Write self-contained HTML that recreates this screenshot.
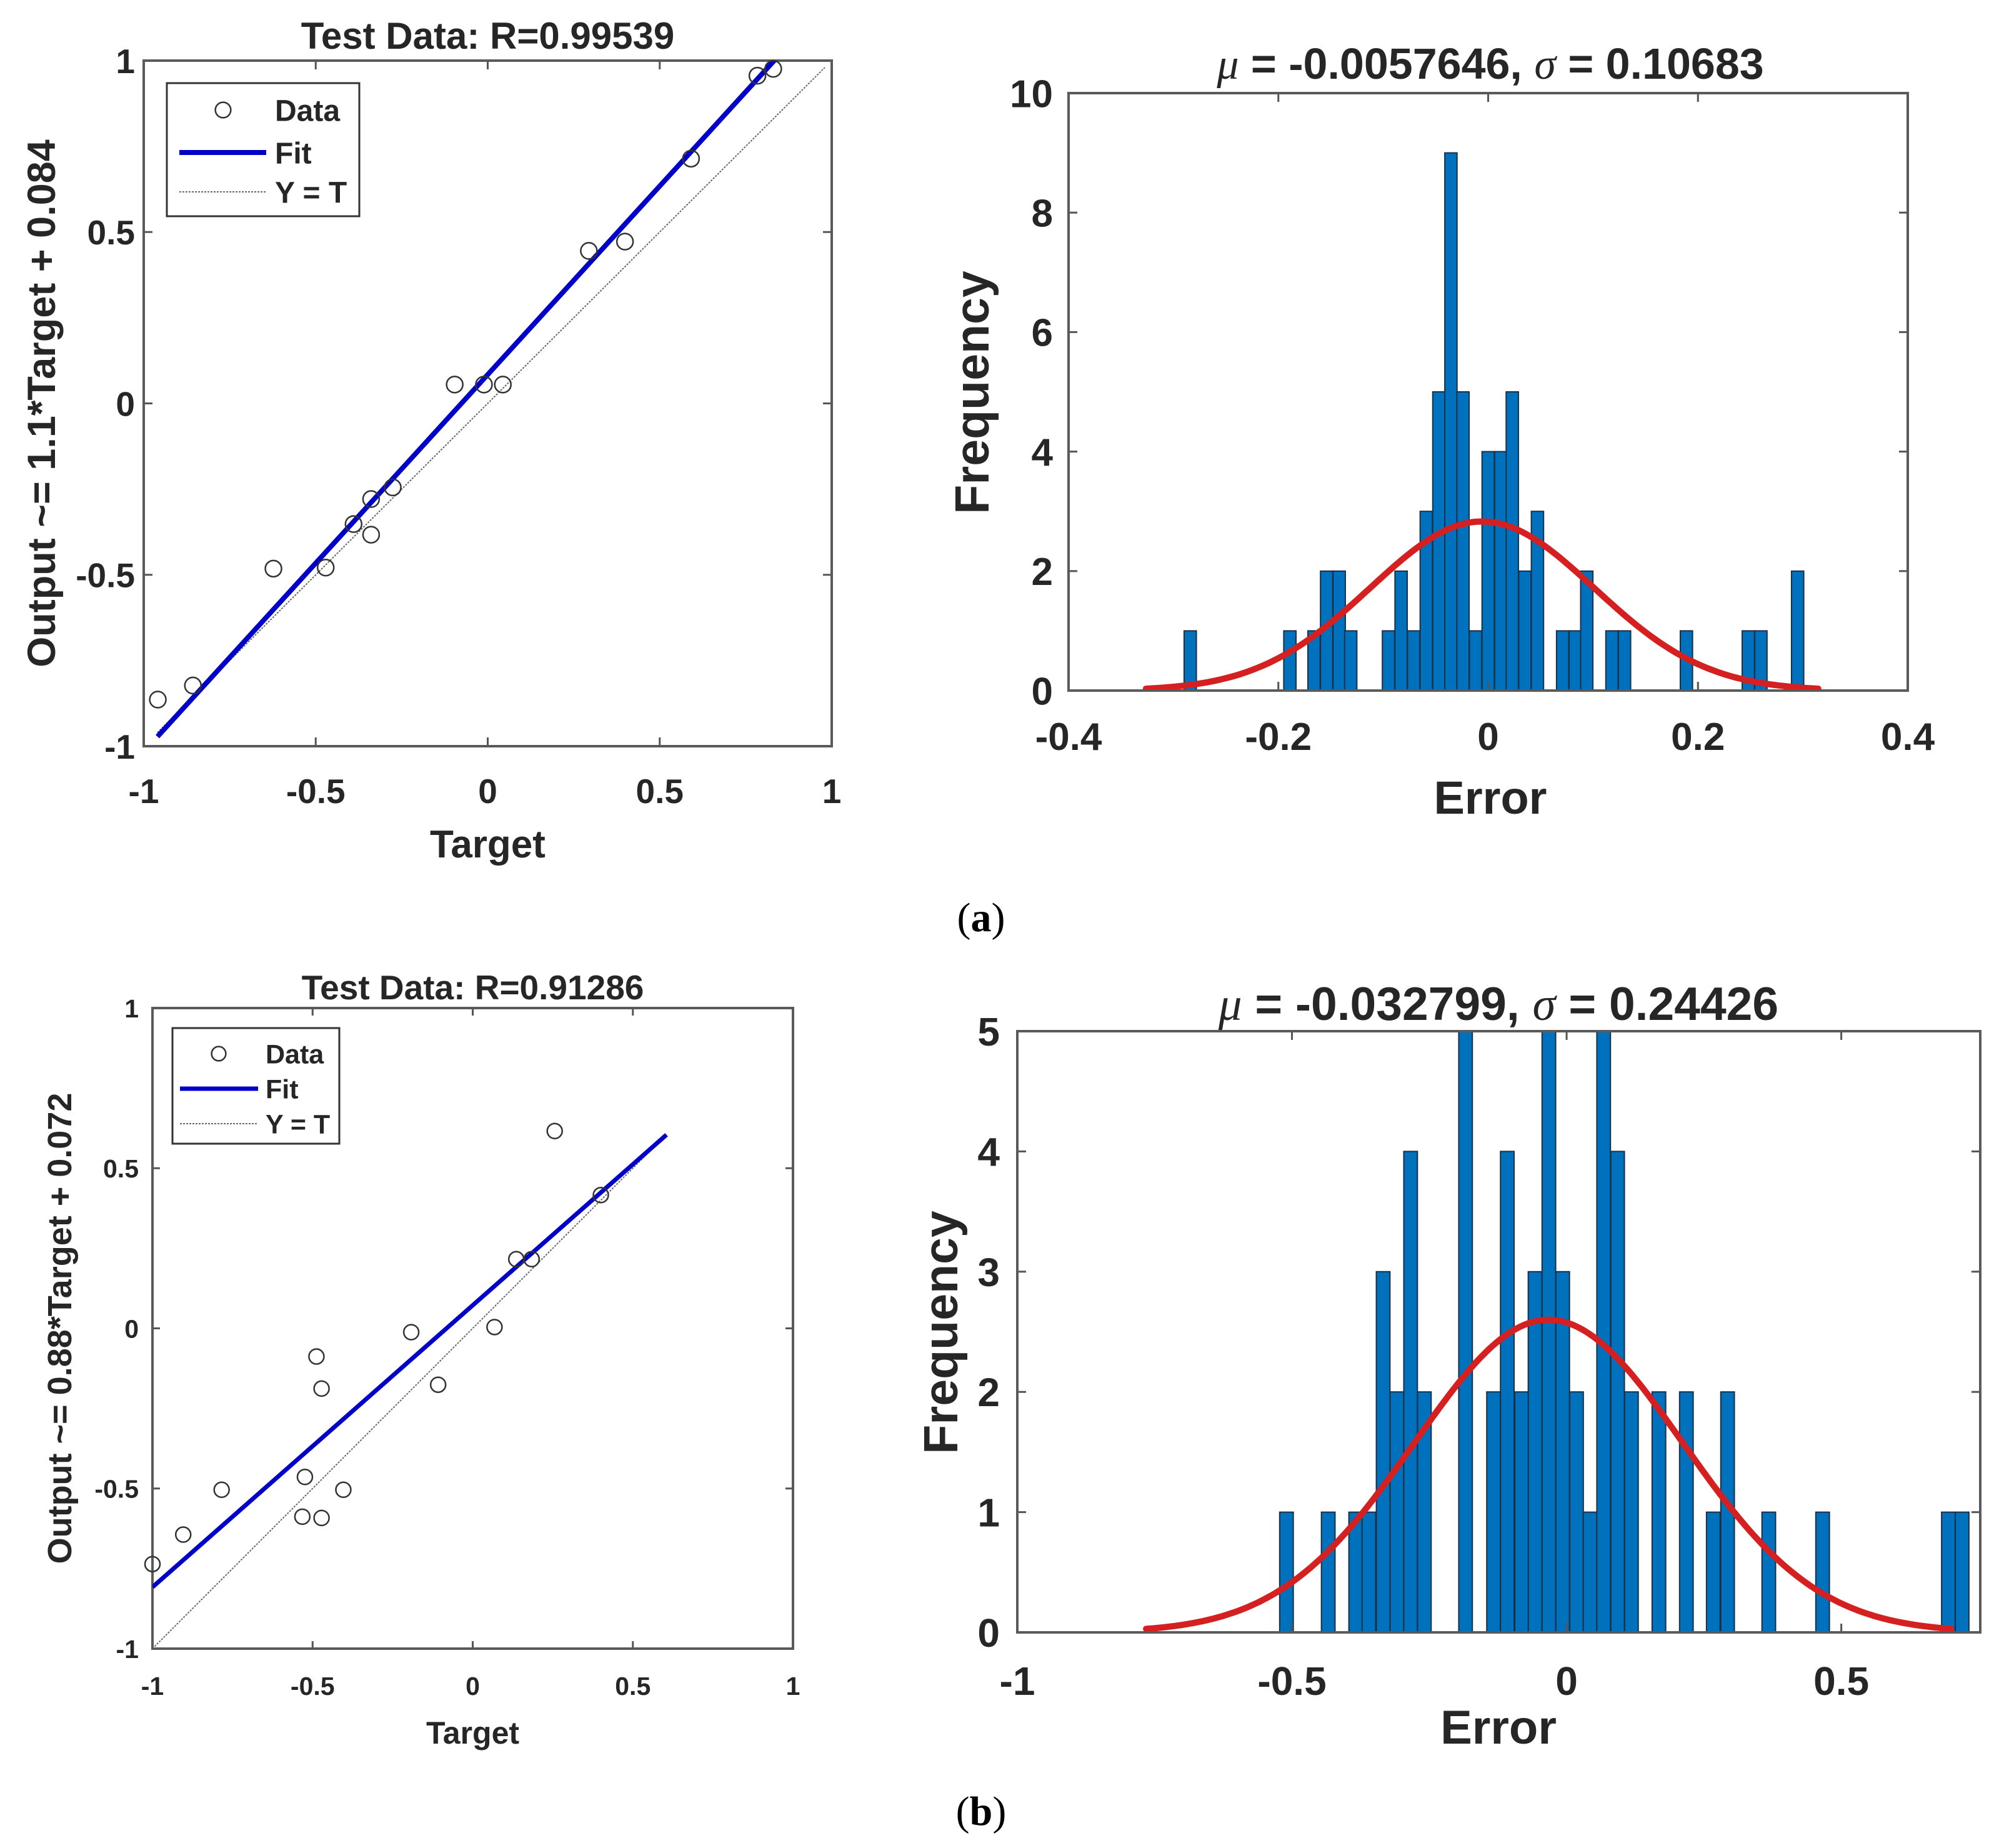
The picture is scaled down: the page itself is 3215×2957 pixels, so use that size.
<!DOCTYPE html>
<html><head><meta charset="utf-8"><style>
html,body{margin:0;padding:0;background:#fff;}
svg{display:block;}
text{font-family:"Liberation Sans",Arial,sans-serif;font-weight:bold;fill:#262626;}
</style></head><body>
<svg id="fig" width="3215" height="2957" viewBox="0 0 3215 2957" xmlns="http://www.w3.org/2000/svg"></svg>
<script>
// ---------- DATA ----------
// Panel (a) regression
const aTargets = [-0.959,-0.857,-0.623,-0.471,-0.390,-0.339,-0.339,-0.276,-0.096,-0.011,0.044,0.294,0.399,0.591,0.784,0.830];
const aOutputs = [-0.864,-0.823,-0.482,-0.479,-0.352,-0.279,-0.383,-0.245,0.055,0.055,0.055,0.445,0.472,0.714,0.956,0.976];
const aFitSlope = [1.1];
const aFitIntercept = [0.084];
const aFitRange = [-0.96, 0.98];
// Panel (a) histogram
const aBinCenters = [-0.284,-0.189,-0.166,-0.154,-0.142,-0.131,-0.095,-0.083,-0.071,-0.059,-0.047,-0.0355,-0.024,-0.012,0.0,0.012,0.023,0.035,0.047,0.071,0.083,0.094,0.118,0.130,0.189,0.248,0.260,0.295];
const aBinCounts  = [1,1,1,2,2,1,1,2,1,3,5,9,5,1,4,4,5,2,3,1,1,2,1,1,1,1,1,2];
const aBinWidth = [0.0117];
const aMuSigma = [-0.0057646, 0.10683];
const aCurvePeak = [2.83];
// Panel (b) regression
const bTargets = [-1.0,-0.904,-0.784,-0.524,-0.532,-0.472,-0.404,-0.488,-0.472,-0.192,-0.108,0.068,0.136,0.184,0.256,0.40];
const bOutputs = [-0.736,-0.644,-0.504,-0.464,-0.588,-0.592,-0.504,-0.088,-0.188,-0.012,-0.176,0.004,0.216,0.216,0.616,0.416];
const bFitSlope = [0.88];
const bFitIntercept = [0.072];
const bFitRange = [-1.0, 0.605];
// Panel (b) histogram
const bBinCenters = [-0.510,-0.434,-0.384,-0.360,-0.334,-0.309,-0.284,-0.259,-0.184,-0.133,-0.108,-0.082,-0.0575,-0.0323,-0.0072,0.018,0.0426,0.0674,0.0928,0.118,0.168,0.218,0.267,0.293,0.368,0.466,0.695,0.720];
const bBinCounts  = [1,1,1,1,3,2,4,2,5,2,4,2,3,5,3,2,1,5,4,2,2,2,1,2,1,1,1,1];
const bBinWidth = [0.0248];
const bMuSigma = [-0.032799, 0.24426];
const bCurvePeak = [2.6];
// Tick labels
const regTicks = [-1,-0.5,0,0.5,1];
const regTickLabels = ["-1","-0.5","0","0.5","1"];
const aHistXTicks = [-0.4,-0.2,0,0.2,0.4];
const aHistXLabels = ["-0.4","-0.2","0","0.2","0.4"];
const aHistYTicks = [0,2,4,6,8,10];
const bHistXTicks = [-1,-0.5,0,0.5];
const bHistXLabels = ["-1","-0.5","0","0.5"];
const bHistYTicks = [0,1,2,3,4,5];

// ---------- HELPERS ----------
const NS = "http://www.w3.org/2000/svg";
const svg = document.getElementById("fig");
function mk(tag, attrs, parent){
  const e = document.createElementNS(NS, tag);
  for (const k in attrs) e.setAttribute(k, attrs[k]);
  (parent||svg).appendChild(e);
  return e;
}
function scale(d0,d1,r0,r1){ return v => r0 + (v-d0)*(r1-r0)/(d1-d0); }

function drawAxesFrame(g, L, T, R, B, xs, ys, xt, yt, tickLen){
  xt.forEach(v=>{
    const x = xs(v);
    const t1 = mk("line",{x1:x,y1:B,x2:x,y2:B-tickLen,stroke:"#555","stroke-width":3},g);
    
    
    mk("line",{x1:x,y1:T,x2:x,y2:T+tickLen,stroke:"#555","stroke-width":3},g);
  });
  yt.forEach(v=>{
    const y = ys(v);
    const t2 = mk("line",{x1:L,y1:y,x2:L+tickLen,y2:y,stroke:"#555","stroke-width":3},g);
    
    
    mk("line",{x1:R,y1:y,x2:R-tickLen,y2:y,stroke:"#555","stroke-width":3},g);
  });
  const box = mk("rect",{x:L,y:T,width:R-L,height:B-T,fill:"none",stroke:"#5a5a5a","stroke-width":4},g);
  
  
}

function regressionPanel(cfg){
  const g = mk("g",{});
  
  
  const {L,T,R,B} = cfg;
  const xs = scale(-1,1,L,R), ys = scale(-1,1,B,T);
  const clipId = cfg.name+"-clip";
  const cp = mk("clipPath",{id:clipId},g);
  mk("rect",{x:L,y:T,width:R-L,height:B-T},cp);
  drawAxesFrame(g,L,T,R,B,xs,ys,regTicks,regTicks,cfg.tick);
  const yt = mk("line",{x1:xs(cfg.range[0]),y1:ys(cfg.range[0]),x2:xs(cfg.range[1]),y2:ys(cfg.range[1]),stroke:"#666","stroke-width":2,"stroke-dasharray":"3,2","clip-path":`url(#${clipId})`},g);
  
  
  const f = x => cfg.slope[0]*x + cfg.intercept[0];
  const fl = mk("line",{x1:xs(cfg.range[0]),y1:ys(f(cfg.range[0])),x2:xs(cfg.range[1]),y2:ys(f(cfg.range[1])),stroke:"#0000C8","stroke-width":cfg.fitW,"clip-path":`url(#${clipId})`},g);
  
  
  cfg.tx.forEach((t,i)=>{
    const c = mk("circle",{cx:xs(t),cy:ys(cfg.oy[i]),r:cfg.r,fill:"none",stroke:"#333","stroke-width":2.5},g);
    
    
  });
  regTicks.forEach((v,i)=>{
    const tx = mk("text",{x:xs(v),y:cfg.xLabY,"text-anchor":"middle","font-size":cfg.tickFs},g);
    tx.textContent = regTickLabels[i];
    
    
    const ty = mk("text",{x:cfg.yLabX,y:ys(v)+cfg.tickFs*0.36,"text-anchor":"end","font-size":cfg.tickFs},g);
    ty.textContent = regTickLabels[i];
    
    
  });
  const title = mk("text",{x:(L+R)/2,y:cfg.titleY,"text-anchor":"middle","font-size":cfg.titleFs},g);
  title.textContent = cfg.title;
  
  
  const xl = mk("text",{x:(L+R)/2,y:cfg.xTitleY,"text-anchor":"middle","font-size":cfg.axFs},g);
  xl.textContent = "Target";
  
  
  const cy = (T+B)/2;
  const yl = mk("text",{x:cfg.yTitleX,y:cy,"text-anchor":"middle","font-size":cfg.yAxFs,transform:`rotate(-90 ${cfg.yTitleX} ${cy})`},g);
  yl.textContent = cfg.ylabel;
  
  
  const lg = mk("g",{},g);
  
  
  const lb = cfg.leg;
  mk("rect",{x:lb.x0,y:lb.y0,width:lb.x1-lb.x0,height:lb.y1-lb.y0,fill:"#fff",stroke:"#333","stroke-width":3},lg);
  const e1 = mk("circle",{cx:lb.mx,cy:lb.ys[0],r:cfg.r*0.95,fill:"none",stroke:"#333","stroke-width":2.5},lg);
  
  
  const e2 = mk("line",{x1:lb.lx0,y1:lb.ys[1],x2:lb.lx1,y2:lb.ys[1],stroke:"#0000C8","stroke-width":cfg.fitW},lg);
  
  
  const e3 = mk("line",{x1:lb.lx0,y1:lb.ys[2],x2:lb.lx1,y2:lb.ys[2],stroke:"#666","stroke-width":2,"stroke-dasharray":"3,2"},lg);
  
  
  ["Data","Fit","Y = T"].forEach((s,i)=>{
    const t = mk("text",{x:lb.tx,y:lb.ys[i]+lb.fs*0.36,"font-size":lb.fs},lg);
    t.textContent = s;
    
    
  });
}

function histPanel(cfg){
  const g = mk("g",{});
  
  
  const {L,T,R,B} = cfg;
  const xs = scale(cfg.xlim[0],cfg.xlim[1],L,R), ys = scale(cfg.ylim[0],cfg.ylim[1],B,T);
  cfg.centers.forEach((c,i)=>{
    const x0 = xs(c - cfg.bw[0]/2), x1 = xs(c + cfg.bw[0]/2);
    const y = ys(cfg.counts[i]);
    const r = mk("rect",{x:x0,y:y,width:x1-x0,height:B-y,fill:"#0072BD",stroke:"#1b2f45","stroke-width":2},g);
    
    
  });
  const mu = cfg.ms[0], sd = cfg.ms[1];
  let d = "";
  for (let k=0;k<=200;k++){
    const v = mu - 3*sd + 6*sd*k/200;
    const yv = cfg.peak[0]*Math.exp(-0.5*Math.pow((v-mu)/sd,2));
    d += (k?"L":"M") + xs(v).toFixed(1) + "," + ys(yv).toFixed(1);
  }
  const p = mk("path",{d:d,fill:"none",stroke:"#D42020","stroke-width":10,"stroke-linecap":"round"},g);
  
  
  drawAxesFrame(g,L,T,R,B,xs,ys,cfg.xt,cfg.yt,14);
  cfg.xt.forEach((v,i)=>{
    const t = mk("text",{x:xs(v),y:cfg.xLabY,"text-anchor":"middle","font-size":cfg.tickFs},g);
    t.textContent = cfg.xl[i];
    
    
  });
  cfg.yt.forEach(v=>{
    const t = mk("text",{x:cfg.yLabX,y:ys(v)+cfg.tickFs*0.36,"text-anchor":"end","font-size":cfg.tickFs},g);
    t.textContent = String(v);
    
    
  });
  const title = mk("text",{x:cfg.titleX,y:cfg.titleY,"text-anchor":"middle","font-size":cfg.titleFs},g);
  const s1 = mk("tspan",{"font-family":"Liberation Serif, serif","font-style":"italic","font-weight":"normal"},title); s1.textContent="μ";
  const s2 = mk("tspan",{},title); s2.textContent=" = "+cfg.muTxt+", ";
  const s3 = mk("tspan",{"font-family":"Liberation Serif, serif","font-style":"italic","font-weight":"normal"},title); s3.textContent="σ";
  const s4 = mk("tspan",{},title); s4.textContent=" = "+cfg.sdTxt;
  
  
  const xl = mk("text",{x:cfg.titleX,y:cfg.xTitleY,"text-anchor":"middle","font-size":cfg.axFs},g);
  xl.textContent = "Error";
  
  
  const cy = cfg.yTitleCY;
  const yl = mk("text",{x:cfg.yTitleX,y:cy,"text-anchor":"middle","font-size":cfg.yAxFs,transform:`rotate(-90 ${cfg.yTitleX} ${cy})`},g);
  yl.textContent = "Frequency";
  
  
}

// ---------- PANELS ----------
regressionPanel({name:"regression-plot-a",L:230,T:97,R:1331,B:1194,tick:14,
  tx:aTargets,oy:aOutputs,slope:aFitSlope,intercept:aFitIntercept,range:aFitRange,
  r:13,fitW:8,tickFs:55,xLabY:1285,yLabX:216,titleY:78,titleFs:60,title:"Test Data: R=0.99539",
  xTitleY:1372,axFs:62,yAxFs:63,yTitleX:88,ylabel:"Output ~= 1.1*Target + 0.084",
  leg:{x0:267,y0:133,x1:575,y1:346,mx:357,lx0:287,lx1:426,tx:440,ys:[176,244,307],fs:48}});

histPanel({name:"error-histogram-a",L:1710,T:149,R:3053,B:1105,xlim:[-0.4,0.4],ylim:[0,10],
  centers:aBinCenters,counts:aBinCounts,bw:aBinWidth,ms:aMuSigma,peak:aCurvePeak,
  xt:aHistXTicks,xl:aHistXLabels,yt:aHistYTicks,tickFs:62,xLabY:1200,yLabX:1685,
  titleX:2385,titleY:126,titleFs:70,muTxt:"-0.0057646",sdTxt:"0.10683",
  xTitleY:1302,axFs:74,yAxFs:77,yTitleX:1582,yTitleCY:628});

regressionPanel({name:"regression-plot-b",L:244,T:1613,R:1269,B:2638,tick:12,
  tx:bTargets,oy:bOutputs,slope:bFitSlope,intercept:bFitIntercept,range:bFitRange,
  r:12,fitW:7,tickFs:41,xLabY:2712,yLabX:222,titleY:1599,titleFs:55,title:"Test Data: R=0.91286",
  xTitleY:2790,axFs:50,yAxFs:54,yTitleX:114,ylabel:"Output ~= 0.88*Target + 0.072",
  leg:{x0:276,y0:1645,x1:543,y1:1830,mx:350,lx0:288,lx1:413,tx:425,ys:[1686,1742,1798],fs:43}});

histPanel({name:"error-histogram-b",L:1628,T:1650,R:3169,B:2612,xlim:[-1,0.753],ylim:[0,5],
  centers:bBinCenters,counts:bBinCounts,bw:bBinWidth,ms:bMuSigma,peak:bCurvePeak,
  xt:bHistXTicks,xl:bHistXLabels,yt:bHistYTicks,tickFs:64,xLabY:2712,yLabX:1600,
  titleX:2398,titleY:1632,titleFs:75,muTxt:"-0.032799",sdTxt:"0.24426",
  xTitleY:2790,axFs:76,yAxFs:77,yTitleX:1532,yTitleCY:2132});

// Sub-figure labels
[["(a)",1490],["(b)",2920]].forEach(([s,y])=>{
  const t = mk("text",{x:1570,y:y,"text-anchor":"middle","font-size":66,style:"font-family:'Liberation Serif',serif;font-weight:normal;fill:#000"});
  t.appendChild(document.createTextNode("("));
  const b = mk("tspan",{"font-weight":"bold"},t); b.textContent = s[1];
  t.appendChild(document.createTextNode(")"));
  
  
});
</script>
</body></html>
